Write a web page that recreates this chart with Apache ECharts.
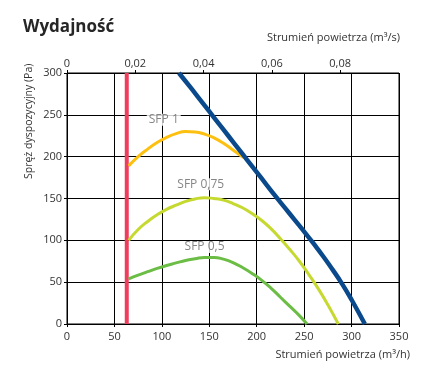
<!DOCTYPE html>
<html>
<head>
<meta charset="utf-8">
<script src="https://cdn.jsdelivr.net/npm/echarts@6/dist/echarts.min.js"></script>
<style>
  html, body { margin: 0; padding: 0; background: #fff; }
  #chart { width: 433px; height: 377px; }
</style>
</head>
<body>
<div id="chart"></div>
<script>
// dane: [strumień m3/h, spręż Pa]
var minFlow = [[63, 0], [63, 300]];
var maxCurve = [[118, 300], [130, 283], [140, 268.5], [150, 254], [160, 239.5], [170, 225], [180, 210.5], [190, 196],
    [200, 181.5], [210, 167], [220, 152.5], [230, 138.5], [240, 124.5], [250, 110.5], [260, 96], [270, 81],
    [280, 65], [290, 48], [300, 29], [314, 0]];
var sfp1 = [[65, 189], [75, 200], [85, 209], [95, 217], [105, 223], [115, 227.5], [125, 230], [135, 229.5],
    [145, 227], [155, 222.5], [165, 216], [175, 208], [186, 199]];
var sfp075 = [[65, 100], [75, 113], [85, 122.5], [95, 130.5], [105, 137], [115, 142], [125, 146.5], [135, 149.5],
    [145, 151], [155, 150], [165, 148], [175, 144], [185, 139], [195, 132], [205, 124], [215, 114], [225, 102],
    [235, 89], [245, 75], [255, 59], [265, 42], [275, 23], [286, 0]];
var sfp05 = [[65, 54], [75, 58.5], [85, 62.5], [95, 66.5], [105, 70], [115, 73], [125, 76], [135, 78], [145, 79.6],
    [155, 79.6], [165, 77.5], [175, 73.5], [185, 67.5], [195, 60.5], [205, 52.5], [215, 43], [225, 32], [235, 21],
    [245, 10], [253, 0]];
var sfpLabels = [[102, 244, 'SFP 1'], [141, 167, 'SFP 0,75'], [145, 92, 'SFP 0,5']];

var flowTicksH = 50;     // m3/h
var flowTicksS = 0.02;   // m3/s
var pressTicks = 50;

var myChart = echarts.init(document.getElementById('chart'));

var txt = '#333';
var fontFam = 'Open Sans';

function curve(data, color, width, smooth) {
    return {
        type: 'line',
        data: data,
        xAxisIndex: 0,
        yAxisIndex: 0,
        smooth: smooth,
        showSymbol: false,
        symbol: 'none',
        silent: true,
        lineStyle: { color: color, width: width, cap: 'butt' },
        z: 3
    };
}

myChart.setOption({
    animation: false,
    backgroundColor: '#fff',
    grid: {
        left: 67, right: 34, top: 73, bottom: 53,
        show: true, borderColor: '#000', borderWidth: 1
    },
    graphic: [
        { type: 'text', left: 23, top: 19,
          style: { text: 'Wydajność', font: 'bold 17px "Open Sans"', fill: '#262626' } },
        { type: 'text', right: 33, top: 32,
          style: { text: 'Strumień powietrza (m³/s)', font: '11px "Open Sans"', fill: txt } },
        { type: 'text', right: 23, top: 349,
          style: { text: 'Strumień powietrza (m³/h)', font: '11px "Open Sans"', fill: txt } },
        { type: 'text', x: 24, y: 179, rotation: Math.PI / 2,
          style: { text: 'Spręż dyspozycyjny (Pa)', font: '10.5px "Open Sans"', fill: txt,
                   align: 'left', verticalAlign: 'top' } }
    ],
    xAxis: [{
        type: 'value',
        position: 'bottom',
        min: 0, max: 350, interval: flowTicksH,
        axisLine: { show: true, lineStyle: { color: '#000', width: 1 } },
        axisTick: { show: true, length: 3, lineStyle: { color: '#000' } },
        axisLabel: { color: txt, fontSize: 11, fontFamily: fontFam, margin: 7 },
        splitLine: { show: true, lineStyle: { color: '#000', width: 1 } }
    }, {
        type: 'value',
        position: 'top',
        min: 0, max: 350 / 3600, interval: flowTicksS,
        axisLine: { show: true, lineStyle: { color: '#000', width: 1 } },
        axisTick: { show: true, length: 3, lineStyle: { color: '#000' } },
        axisLabel: {
            color: txt, fontSize: 11, fontFamily: fontFam, margin: 4,
            showMaxLabel: false,
            formatter: function (v) {
                var k = v / flowTicksS;
                if (Math.abs(k - Math.round(k)) > 1e-6) return '';
                if (v === 0) return '0';
                return v.toFixed(2).replace('.', ',');
            }
        },
        splitLine: { show: false }
    }],
    yAxis: [{
        type: 'value',
        min: 0, max: 300, interval: pressTicks,
        axisLine: { show: true, lineStyle: { color: '#000', width: 1 } },
        axisTick: { show: true, length: 3, lineStyle: { color: '#000' } },
        axisLabel: { color: txt, fontSize: 11, fontFamily: fontFam, margin: 5 },
        splitLine: { show: true, lineStyle: { color: '#000', width: 1 } }
    }],
    series: [
        curve(minFlow, '#ee3d5d', 4, false),
        curve(sfp1, '#fdc010', 3, 0.5),
        curve(sfp075, '#c6d930', 3, 0.5),
        curve(sfp05, '#6cbd45', 3, 0.5),
        curve(maxCurve, '#0a4a8c', 4.5, 0.5),
        {
            type: 'scatter',
            data: sfpLabels,
            symbolSize: 0,
            silent: true,
            z: 4,
            label: {
                show: true,
                position: 'inside',
                formatter: function (p) { return p.value[2]; },
                color: '#666',
                fontSize: 12,
                fontFamily: fontFam,
                backgroundColor: '#fff',
                padding: [0, 2]
            }
        }
    ]
});
</script>
</body>
</html>
